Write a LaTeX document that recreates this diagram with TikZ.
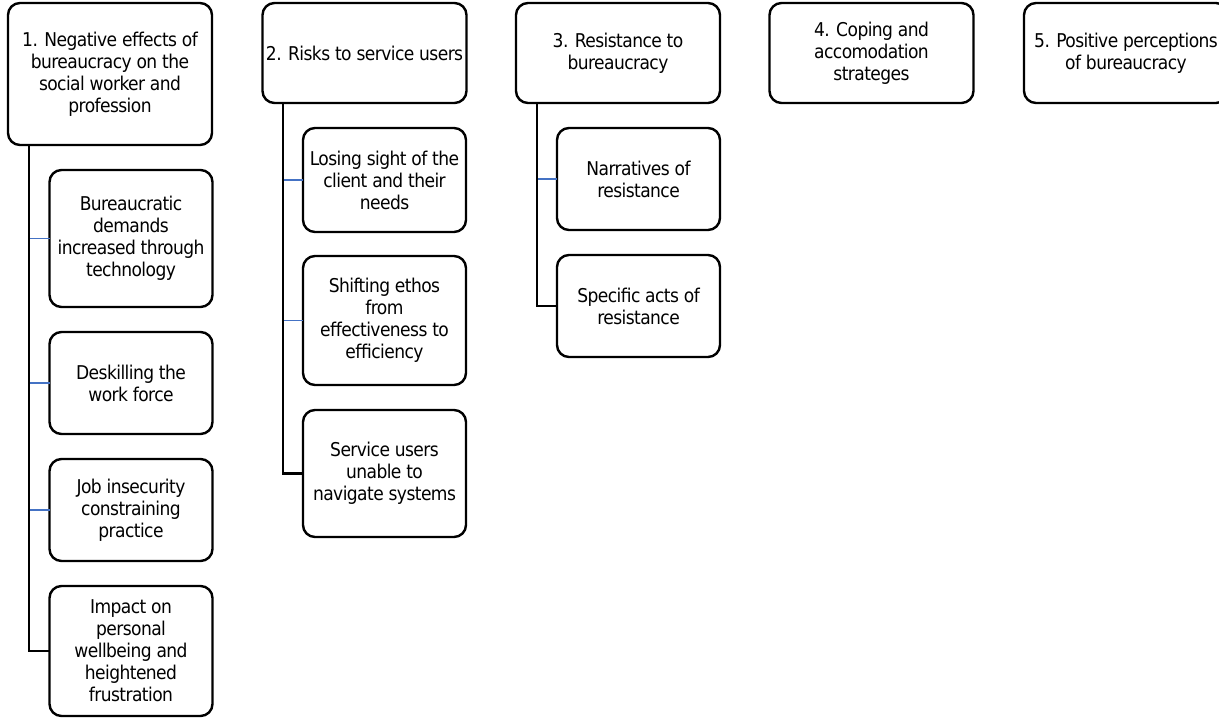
\documentclass[tikz,border=0pt]{standalone}
\usepackage{fontspec}
\setmainfont[LetterSpace=-3]{DejaVu Sans Condensed}
\definecolor{stubblue}{HTML}{4472C4}

\begin{document}
\begin{tikzpicture}[x=0.5pt,y=-0.5pt,
    theme/.style ={rectangle, draw, line width=1.2pt, rounded corners=6pt, align=center,
      inner sep=0pt, outer sep=0pt, minimum width=102pt, minimum height=50pt,
      font=\fontsize{9.5}{11}\selectfont},
    subtheme/.style ={theme, minimum width=81.5pt},
    trunk/.style ={line width=1.2pt},
    stub/.style ={line width=0.8pt, stubblue}]
   \useasboundingbox (0,0) rectangle (1219,718);
   \clip (0,0) rectangle (1219,718);
   % main themes
   \node[theme, minimum height=71pt] (T1) at (110,74) {1. Negative effects of\\bureaucracy on the\\social worker and\\profession};
   \node[theme] (T2) at (364.5,53) {2. Risks to service users};
   \node[theme] (T3) at (618,53) {3. Resistance to\\bureaucracy};
   \node[theme] (T4) at (871.5,53) {4. Coping and\\accomodation\\strateges};
   \node[theme] (T5) at (1126,53) {5. Positive perceptions\\of bureaucracy};
   % sub-themes
   \node[subtheme, minimum height=68.5pt] (S1a) at (131,238.5) {Bureaucratic\\demands\\increased through\\technology};
   \node[subtheme, minimum height=51pt] (S1b) at (131,383) {Deskilling the\\work force};
   \node[subtheme, minimum height=51pt] (S1c) at (131,510) {Job insecurity\\constraining\\practice};
   \node[subtheme, minimum height=65pt] (S1d) at (131,651) {Impact on\\personal\\wellbeing and\\heightened\\frustration};
   \node[subtheme, minimum height=52pt] (S2a) at (384.5,180) {Losing sight of the\\client and their\\needs};
   \node[subtheme, minimum height=64.5pt] (S2b) at (384.5,320.5) {Shifting ethos\\from\\effectiveness to\\efficiency};
   \node[subtheme, minimum height=63.5pt] (S2c) at (384.5,473.5) {Service users\\unable to\\navigate systems};
   \node[subtheme, minimum height=51pt] (S3a) at (638.5,179) {Narratives of\\resistance};
   \node[subtheme, minimum height=51pt] (S3b) at (638.5,306) {Specific acts of\\resistance};
   % connectors
   \coordinate (J1) at (29,145);
   \coordinate (J2) at (283,103);
   \coordinate (J3) at (537,103);
   \foreach \s/\j in {S1a/J1,S1b/J1,S1c/J1,S2a/J2,S2b/J2,S3a/J3}
     \draw[stub] (\s.west) -- (\s.west -| \j);
   \draw[trunk] (J1) |- (S1d.west);
   \draw[trunk] (J2) |- (S2c.west);
   \draw[trunk] (J3) |- (S3b.west);
 \end{tikzpicture}
\end{document}
